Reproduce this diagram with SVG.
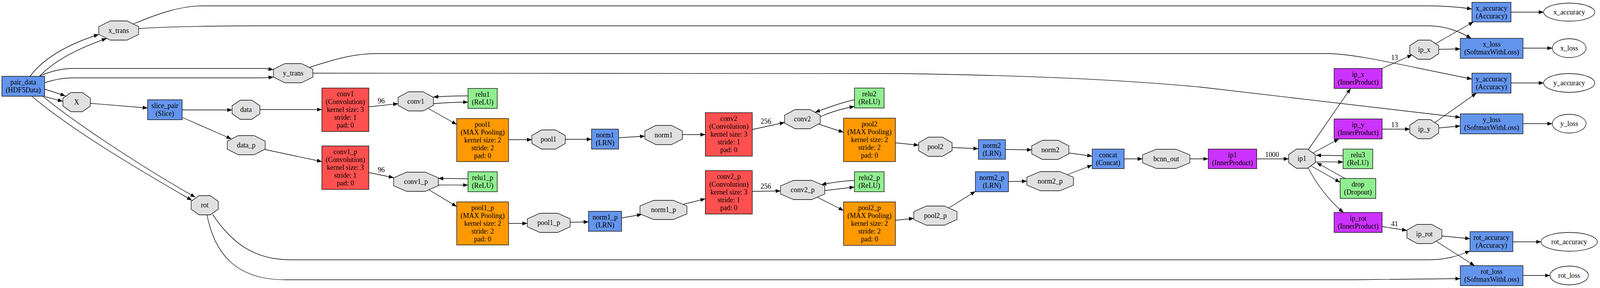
<svg xmlns="http://www.w3.org/2000/svg" width="4258" height="736" viewBox="0 0 4258 736">
<style>
.n rect,.n polygon,.n ellipse{stroke:#000;stroke-width:1.33}
.blob{fill:#E0E0E0}
.def{fill:#6495ED}
.conv{fill:#FF5050}
.pool{fill:#FF9900}
.ip{fill:#CC33FF}
.relu{fill:#90EE90}
.out{fill:#FFFFFF}
text{font-family:"Liberation Serif","Times New Roman",serif;font-size:18.5px;text-anchor:middle;fill:#000}
#edges path{fill:none;stroke:#000;stroke-width:1.33;marker-end:url(#arr)}
</style>
<defs>
<marker id="arr" viewBox="0 0 13 10" refX="13" refY="5" markerWidth="13" markerHeight="10" markerUnits="userSpaceOnUse" orient="auto">
<path d="M0,0 L13,5 L0,10 z" fill="#000"/>
</marker>
</defs>
<rect width="4258" height="736" fill="#fff"/>
<g id="diagram" transform="scale(0.9615,1)">
<g id="edges">
<path d="M80,195 C115,150 175,115 263,88"/>
<path d="M105,195 C145,155 205,125 284,98"/>
<path d="M107,194 C135,182 165,175 195,175 L700,175 C712,175 720,177 728,178"/>
<path d="M120,211 C145,203 170,199 195,199 L700,199 L728,197"/>
<path d="M120,228 L174,245"/>
<path d="M120,247 L167,259"/>
<path d="M85,246 C200,340 400,450 511,512"/>
<path d="M114,246 C220,330 420,450 520,504"/>
<path d="M240,264 L393,276"/>
<path d="M485,281 L618,281"/>
<path d="M485,300 L616,355"/>
<path d="M692,280 L857,280"/>
<path d="M705,382 L857,413"/>
<path d="M982,273 L1060,265"/>
<path d="M1154,265 C1190,262 1220,261 1246,261"/>
<path d="M1246,245 C1210,245 1180,246 1154,248"/>
<path d="M1140,277 L1216,318"/>
<path d="M982,441 L1048,454"/>
<path d="M1167,473 C1200,472 1225,473 1246,473"/>
<path d="M1246,457 C1215,456 1190,456 1167,456"/>
<path d="M1142,485 L1216,528"/>
<path d="M1354,357 L1416,357"/>
<path d="M1505,356 L1575,356"/>
<path d="M1647,352 L1717,348"/>
<path d="M1817,344 L1878,344"/>
<path d="M1354,571 L1404,571"/>
<path d="M1518,568 L1567,567"/>
<path d="M1655,557 L1709,548"/>
<path d="M1820,522 L1878,508"/>
<path d="M2003,331 L2089,313"/>
<path d="M2184,298 C2215,285 2245,277 2275,272"/>
<path d="M2275,255 C2240,262 2205,275 2170,287"/>
<path d="M2179,317 L2246,338"/>
<path d="M2003,489 L2078,488"/>
<path d="M2196,487 L2275,478"/>
<path d="M2275,461 C2240,463 2210,467 2187,472"/>
<path d="M2176,504 L2246,538"/>
<path d="M2384,365 L2446,371"/>
<path d="M2535,377 L2605,380"/>
<path d="M2384,563 L2433,558"/>
<path d="M2527,531 L2597,489"/>
<path d="M2677,382 L2747,383"/>
<path d="M2685,464 L2734,463"/>
<path d="M2846,391 L2908,399"/>
<path d="M2843,446 L2908,422"/>
<path d="M2993,406 L3042,406"/>
<path d="M3168,406 L3217,406"/>
<path d="M3346,406 L3431,406"/>
<path d="M3502,414 C3530,413 3555,414 3576,414"/>
<path d="M3576,398 C3550,397 3525,397 3504,397"/>
<path d="M3491,424 L3568,466"/>
<path d="M3581,456 L3506,416"/>
<path d="M3483,429 C3505,470 3540,515 3577,543"/>
<path d="M3483,383 L3596,226"/>
<path d="M3496,391 L3565,355"/>
<path d="M3680,175 L3760,140"/>
<path d="M3823,111 L3923,56"/>
<path d="M3831,126 L3888,125"/>
<path d="M3680,330 L3754,330"/>
<path d="M3819,314 L3931,238"/>
<path d="M3831,327 L3888,322"/>
<path d="M3680,579 L3746,589"/>
<path d="M3839,603 L3914,610"/>
<path d="M3823,616 L3926,679"/>
<path d="M356,61 C420,35 480,15 540,15 L3800,15 C3850,15 3885,18 3919,23"/>
<path d="M369,73 C450,68 550,66 700,66 L3800,66 C3850,66 3885,80 3917,98"/>
<path d="M825,172 C900,148 950,137 1000,137 L3540,137 C3620,140 3700,160 3919,202"/>
<path d="M833,187 L2400,188 Q2900,195 3200,223 L3888,300"/>
<path d="M566,548 C620,625 680,664 775,664 L3800,664 C3850,664 3880,655 3914,641"/>
<path d="M551,549 C570,640 620,715 760,715 L3600,715 L3888,712"/>
<path d="M4023,31 L4110,31"/>
<path d="M4055,123 L4133,123"/>
<path d="M4023,212 L4110,212"/>
<path d="M4055,316 L4133,316"/>
<path d="M4028,618 L4103,618"/>
<path d="M4055,704 L4127,704"/>
<text x="1015" y="264">96</text>
<text x="1015" y="440">96</text>
<text x="2039" y="316">256</text>
<text x="2039" y="482">256</text>
<text x="3387" y="401">1000</text>
<text x="3713" y="153">13</text>
<text x="3713" y="325">13</text>
<text x="3713" y="578">41</text>
</g>
<g id="pair_data" class="n"><rect class="def" x="5" y="195" width="114" height="51"/><text><tspan x="62" y="216.5">pair_data</tspan><tspan x="62" y="236.5">(HDF5Data)</tspan></text></g>
<g id="x_trans" class="n"><polygon class="blob" points="294.1,53.5 337.9,53.5 369,67.9 369,88.1 337.9,102.5 294.1,102.5 263,88.1 263,67.9"/><text x="316" y="84">x_trans</text></g>
<g id="X" class="n"><polygon class="blob" points="188.9,236.5 219.1,236.5 240.5,250.9 240.5,271.1 219.1,285.5 188.9,285.5 167.5,271.1 167.5,250.9"/><text x="204" y="267">X</text></g>
<g id="y_trans" class="n"><polygon class="blob" points="758.8,162.5 802.2,162.5 833,176.9 833,197.1 802.2,211.5 758.8,211.5 728,197.1 728,176.9"/><text x="780.5" y="193">y_trans</text></g>
<g id="rot" class="n"><polygon class="blob" points="530.1,500 559.9,500 581,514.4 581,534.6 559.9,549 530.1,549 509,534.6 509,514.4"/><text x="545" y="530.5">rot</text></g>
<g id="slice_pair" class="n"><rect class="def" x="393" y="255" width="92" height="51"/><text><tspan x="439" y="276.5">slice_pair</tspan><tspan x="439" y="296.5">(Slice)</tspan></text></g>
<g id="data" class="n"><polygon class="blob" points="639.7,256 670.3,256 692,270.4 692,290.6 670.3,305 639.7,305 618,290.6 618,270.4"/><text x="655" y="286.5">data</text></g>
<g id="data_p" class="n"><polygon class="blob" points="634.6,346.5 676.4,346.5 706,360.9 706,381.1 676.4,395.5 634.6,395.5 605,381.1 605,360.9"/><text x="655.5" y="377">data_p</text></g>
<g id="conv1" class="n"><rect class="conv" x="857" y="225" width="125" height="111"/><text><tspan x="919.5" y="246.5">conv1</tspan><tspan x="919.5" y="266.5">(Convolution)</tspan><tspan x="919.5" y="286.5">kernel size: 3</tspan><tspan x="919.5" y="306.5">stride: 1</tspan><tspan x="919.5" y="326.5">pad: 0</tspan></text></g>
<g id="conv1_p" class="n"><rect class="conv" x="857" y="373" width="125" height="111"/><text><tspan x="919.5" y="394.5">conv1_p</tspan><tspan x="919.5" y="414.5">(Convolution)</tspan><tspan x="919.5" y="434.5">kernel size: 3</tspan><tspan x="919.5" y="454.5">stride: 1</tspan><tspan x="919.5" y="474.5">pad: 0</tspan></text></g>
<g id="conv1_blob" class="n"><polygon class="blob" points="1087.5,234.5 1126.5,234.5 1154,248.9 1154,269.1 1126.5,283.5 1087.5,283.5 1060,269.1 1060,248.9"/><text x="1107" y="265">conv1</text></g>
<g id="conv1_p_blob" class="n"><polygon class="blob" points="1082.9,440 1132.1,440 1167,454.4 1167,474.6 1132.1,489 1082.9,489 1048,474.6 1048,454.4"/><text x="1107.5" y="470.5">conv1_p</text></g>
<g id="relu1" class="n"><rect class="relu" x="1246" y="226" width="78" height="51"/><text><tspan x="1285" y="247.5">relu1</tspan><tspan x="1285" y="267.5">(ReLU)</tspan></text></g>
<g id="relu1_p" class="n"><rect class="relu" x="1246" y="439" width="78" height="51"/><text><tspan x="1285" y="460.5">relu1_p</tspan><tspan x="1285" y="480.5">(ReLU)</tspan></text></g>
<g id="pool1" class="n"><rect class="pool" x="1216" y="303" width="138" height="110"/><text><tspan x="1285" y="324">pool1</tspan><tspan x="1285" y="344">(MAX Pooling)</tspan><tspan x="1285" y="364">kernel size: 2</tspan><tspan x="1285" y="384">stride: 2</tspan><tspan x="1285" y="404">pad: 0</tspan></text></g>
<g id="pool1_p" class="n"><rect class="pool" x="1216" y="516" width="138" height="110"/><text><tspan x="1285" y="537">pool1_p</tspan><tspan x="1285" y="557">(MAX Pooling)</tspan><tspan x="1285" y="577">kernel size: 2</tspan><tspan x="1285" y="597">stride: 2</tspan><tspan x="1285" y="617">pad: 0</tspan></text></g>
<g id="pool1_blob" class="n"><polygon class="blob" points="1442.1,332 1478.9,332 1505,346.4 1505,366.6 1478.9,381 1442.1,381 1416,366.6 1416,346.4"/><text x="1460.5" y="362.5">pool1</text></g>
<g id="pool1_p_blob" class="n"><polygon class="blob" points="1437.4,545 1484.6,545 1518,559.4 1518,579.6 1484.6,594 1437.4,594 1404,579.6 1404,559.4"/><text x="1461" y="575.5">pool1_p</text></g>
<g id="norm1" class="n"><rect class="def" x="1575" y="330" width="72" height="51"/><text><tspan x="1611" y="351.5">norm1</tspan><tspan x="1611" y="371.5">(LRN)</tspan></text></g>
<g id="norm1_p" class="n"><rect class="def" x="1567" y="540" width="88" height="51"/><text><tspan x="1611" y="561.5">norm1_p</tspan><tspan x="1611" y="581.5">(LRN)</tspan></text></g>
<g id="norm1_blob" class="n"><polygon class="blob" points="1746.3,320.5 1787.7,320.5 1817,334.9 1817,355.1 1787.7,369.5 1746.3,369.5 1717,355.1 1717,334.9"/><text x="1767" y="351">norm1</text></g>
<g id="norm1_p_blob" class="n"><polygon class="blob" points="1740.6,512 1792.4,512 1829,526.4 1829,546.6 1792.4,561 1740.6,561 1704,546.6 1704,526.4"/><text x="1766.5" y="542.5">norm1_p</text></g>
<g id="conv2" class="n"><rect class="conv" x="1878" y="288" width="125" height="111"/><text><tspan x="1940.5" y="309.5">conv2</tspan><tspan x="1940.5" y="329.5">(Convolution)</tspan><tspan x="1940.5" y="349.5">kernel size: 3</tspan><tspan x="1940.5" y="369.5">stride: 1</tspan><tspan x="1940.5" y="389.5">pad: 0</tspan></text></g>
<g id="conv2_p" class="n"><rect class="conv" x="1878" y="436" width="125" height="111"/><text><tspan x="1940.5" y="457.5">conv2_p</tspan><tspan x="1940.5" y="477.5">(Convolution)</tspan><tspan x="1940.5" y="497.5">kernel size: 3</tspan><tspan x="1940.5" y="517.5">stride: 1</tspan><tspan x="1940.5" y="537.5">pad: 0</tspan></text></g>
<g id="conv2_blob" class="n"><polygon class="blob" points="2116.8,280 2156.2,280 2184,294.4 2184,314.6 2156.2,329 2116.8,329 2089,314.6 2089,294.4"/><text x="2136.5" y="310.5">conv2</text></g>
<g id="conv2_p_blob" class="n"><polygon class="blob" points="2112.6,461 2161.4,461 2196,475.4 2196,495.6 2161.4,510 2112.6,510 2078,495.6 2078,475.4"/><text x="2137" y="491.5">conv2_p</text></g>
<g id="relu2" class="n"><rect class="relu" x="2275" y="225" width="79" height="51"/><text><tspan x="2314.5" y="246.5">relu2</tspan><tspan x="2314.5" y="266.5">(ReLU)</tspan></text></g>
<g id="relu2_p" class="n"><rect class="relu" x="2275" y="439" width="79" height="51"/><text><tspan x="2314.5" y="460.5">relu2_p</tspan><tspan x="2314.5" y="480.5">(ReLU)</tspan></text></g>
<g id="pool2" class="n"><rect class="pool" x="2246" y="302" width="138" height="111"/><text><tspan x="2315" y="323.5">pool2</tspan><tspan x="2315" y="343.5">(MAX Pooling)</tspan><tspan x="2315" y="363.5">kernel size: 2</tspan><tspan x="2315" y="383.5">stride: 2</tspan><tspan x="2315" y="403.5">pad: 0</tspan></text></g>
<g id="pool2_p" class="n"><rect class="pool" x="2246" y="516" width="138" height="111"/><text><tspan x="2315" y="537.5">pool2_p</tspan><tspan x="2315" y="557.5">(MAX Pooling)</tspan><tspan x="2315" y="577.5">kernel size: 2</tspan><tspan x="2315" y="597.5">stride: 2</tspan><tspan x="2315" y="617.5">pad: 0</tspan></text></g>
<g id="pool2_blob" class="n"><polygon class="blob" points="2472.1,350.5 2508.9,350.5 2535,364.9 2535,385.1 2508.9,399.5 2472.1,399.5 2446,385.1 2446,364.9"/><text x="2490.5" y="381">pool2</text></g>
<g id="pool2_p_blob" class="n"><polygon class="blob" points="2466.7,526.5 2514.3,526.5 2548,540.9 2548,561.1 2514.3,575.5 2466.7,575.5 2433,561.1 2433,540.9"/><text x="2490.5" y="557">pool2_p</text></g>
<g id="norm2" class="n"><rect class="def" x="2605" y="357" width="72" height="50"/><text><tspan x="2641" y="378">norm2</tspan><tspan x="2641" y="398">(LRN)</tspan></text></g>
<g id="norm2_p" class="n"><rect class="def" x="2597" y="439" width="88" height="51"/><text><tspan x="2641" y="460.5">norm2_p</tspan><tspan x="2641" y="480.5">(LRN)</tspan></text></g>
<g id="norm2_blob" class="n"><polygon class="blob" points="2776,358.5 2817,358.5 2846,372.9 2846,393.1 2817,407.5 2776,407.5 2747,393.1 2747,372.9"/><text x="2796.5" y="389">norm2</text></g>
<g id="norm2_p_blob" class="n"><polygon class="blob" points="2770.3,438.5 2821.7,438.5 2858,452.9 2858,473.1 2821.7,487.5 2770.3,487.5 2734,473.1 2734,452.9"/><text x="2796" y="469">norm2_p</text></g>
<g id="concat" class="n"><rect class="def" x="2908" y="381" width="85" height="50"/><text><tspan x="2950.5" y="402">concat</tspan><tspan x="2950.5" y="422">(Concat)</tspan></text></g>
<g id="bcnn_out" class="n"><polygon class="blob" points="3078.9,381.5 3131.1,381.5 3168,395.9 3168,416.1 3131.1,430.5 3078.9,430.5 3042,416.1 3042,395.9"/><text x="3105" y="412">bcnn_out</text></g>
<g id="ip1" class="n"><rect class="ip" x="3217" y="381" width="129" height="50"/><text><tspan x="3281.5" y="402">ip1</tspan><tspan x="3281.5" y="422">(InnerProduct)</tspan></text></g>
<g id="ip1_blob" class="n"><polygon class="blob" points="3451.8,381 3481.2,381 3502,395.4 3502,415.6 3481.2,430 3451.8,430 3431,415.6 3431,395.4"/><text x="3466.5" y="411.5">ip1</text></g>
<g id="relu3" class="n"><rect class="relu" x="3576" y="381" width="79" height="50"/><text><tspan x="3615.5" y="402">relu3</tspan><tspan x="3615.5" y="422">(ReLU)</tspan></text></g>
<g id="drop" class="n"><rect class="relu" x="3568" y="456" width="95" height="51"/><text><tspan x="3615.5" y="477.5">drop</tspan><tspan x="3615.5" y="497.5">(Dropout)</tspan></text></g>
<g id="ip_x" class="n"><rect class="ip" x="3552" y="175" width="128" height="51"/><text><tspan x="3616" y="196.5">ip_x</tspan><tspan x="3616" y="216.5">(InnerProduct)</tspan></text></g>
<g id="ip_y" class="n"><rect class="ip" x="3552" y="304" width="128" height="51"/><text><tspan x="3616" y="325.5">ip_y</tspan><tspan x="3616" y="345.5">(InnerProduct)</tspan></text></g>
<g id="ip_rot" class="n"><rect class="ip" x="3552" y="543" width="128" height="51"/><text><tspan x="3616" y="564.5">ip_rot</tspan><tspan x="3616" y="584.5">(InnerProduct)</tspan></text></g>
<g id="ip_x_blob" class="n"><polygon class="blob" points="3776.1,102.5 3807.9,102.5 3830.5,116.9 3830.5,137.1 3807.9,151.5 3776.1,151.5 3753.5,137.1 3753.5,116.9"/><text x="3792" y="133">ip_x</text></g>
<g id="ip_y_blob" class="n"><polygon class="blob" points="3776.1,305.5 3807.9,305.5 3830.5,319.9 3830.5,340.1 3807.9,354.5 3776.1,354.5 3753.5,340.1 3753.5,319.9"/><text x="3792" y="336">ip_y</text></g>
<g id="ip_rot_blob" class="n"><polygon class="blob" points="3773.2,573.5 3811.8,573.5 3839,587.9 3839,608.1 3811.8,622.5 3773.2,622.5 3746,608.1 3746,587.9"/><text x="3792.5" y="604">ip_rot</text></g>
<g id="x_accuracy" class="n"><rect class="def" x="3919" y="6" width="104" height="50"/><text><tspan x="3971" y="27">x_accuracy</tspan><tspan x="3971" y="47">(Accuracy)</tspan></text></g>
<g id="x_loss" class="n"><rect class="def" x="3888" y="98" width="167" height="51"/><text><tspan x="3971.5" y="119.5">x_loss</tspan><tspan x="3971.5" y="139.5">(SoftmaxWithLoss)</tspan></text></g>
<g id="y_accuracy" class="n"><rect class="def" x="3919" y="187" width="104" height="51"/><text><tspan x="3971" y="208.5">y_accuracy</tspan><tspan x="3971" y="228.5">(Accuracy)</tspan></text></g>
<g id="y_loss" class="n"><rect class="def" x="3888" y="291" width="167" height="51"/><text><tspan x="3971.5" y="312.5">y_loss</tspan><tspan x="3971.5" y="332.5">(SoftmaxWithLoss)</tspan></text></g>
<g id="rot_accuracy" class="n"><rect class="def" x="3914" y="592" width="114" height="51"/><text><tspan x="3971" y="613.5">rot_accuracy</tspan><tspan x="3971" y="633.5">(Accuracy)</tspan></text></g>
<g id="rot_loss" class="n"><rect class="def" x="3888" y="679" width="167" height="51"/><text><tspan x="3971.5" y="700.5">rot_loss</tspan><tspan x="3971.5" y="720.5">(SoftmaxWithLoss)</tspan></text></g>
<g id="x_accuracy_out" class="n"><ellipse class="out" cx="4178" cy="31" rx="68" ry="23"/><text x="4178" y="37">x_accuracy</text></g>
<g id="x_loss_out" class="n"><ellipse class="out" cx="4178" cy="123" rx="45" ry="24"/><text x="4178" y="129">x_loss</text></g>
<g id="y_accuracy_out" class="n"><ellipse class="out" cx="4178" cy="212" rx="68" ry="24"/><text x="4178" y="218">y_accuracy</text></g>
<g id="y_loss_out" class="n"><ellipse class="out" cx="4178" cy="316" rx="45" ry="24"/><text x="4178" y="322">y_loss</text></g>
<g id="rot_accuracy_out" class="n"><ellipse class="out" cx="4178" cy="618" rx="75" ry="24"/><text x="4178" y="624">rot_accuracy</text></g>
<g id="rot_loss_out" class="n"><ellipse class="out" cx="4178" cy="704" rx="51" ry="24"/><text x="4178" y="710">rot_loss</text></g>
</g>
</svg>
